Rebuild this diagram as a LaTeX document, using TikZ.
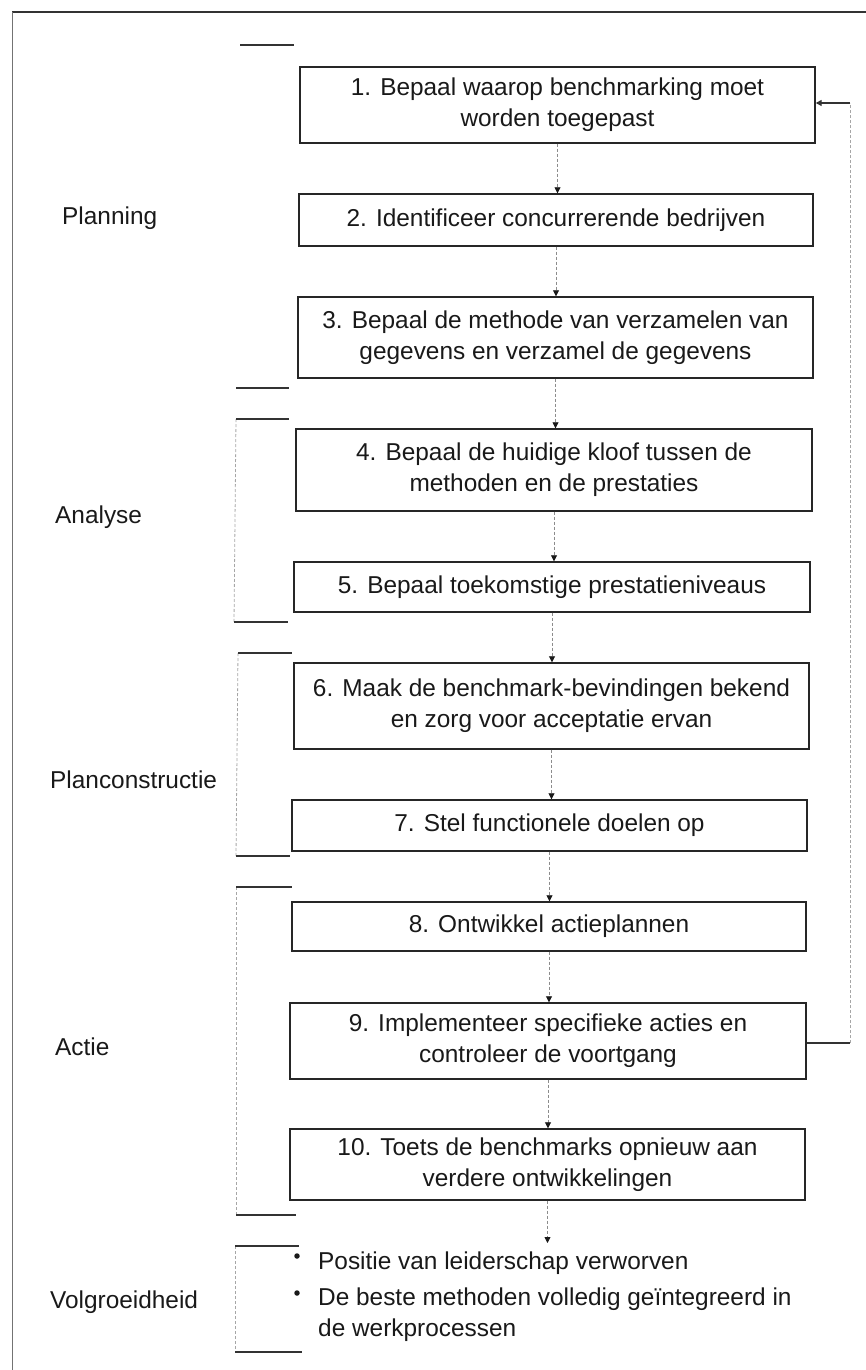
\documentclass[tikz,border=0pt]{standalone}
\usepackage{fontspec}
\setmainfont{Liberation Sans}
\usetikzlibrary{arrows.meta}
\begin{document}
\begin{tikzpicture}[x=1pt,y=-1pt,
  every node/.style={font=\fontsize{24.4}{31}\selectfont, text=black!90, inner sep=0pt},
  stepbox/.style={draw=black!85, line width=1.4pt, align=center},
  phase/.style={anchor=west},
  tick/.style={draw=black!80, line width=1.3pt},
  spine/.style={draw=black!35, line width=0.8pt, densely dashed},
  flow/.style={draw=black!45, line width=0.8pt, densely dashed,
    -{Triangle[length=6pt,width=6pt,color=black!90]}},
  loopline/.style={draw=black!80, line width=1.3pt},
  bulletdot/.style={circle, fill=black!90, minimum size=5.5pt, inner sep=0pt}]
\useasboundingbox (0,0) rectangle (866,1370);

% page frame (top and left rules)
\draw[black!80, line width=1.5pt] (12,12) -- (866,12);
\draw[black!55, line width=1pt] (12,12) -- (12,1370);

% the ten steps
\node[stepbox, minimum width=515pt, minimum height=76pt] (b1) at (557.5,105)
  {1. Bepaal waarop benchmarking moet\\worden toegepast};
\node[stepbox, minimum width=514pt, minimum height=52pt] (b2) at (556,220)
  {2. Identificeer concurrerende bedrijven};
\node[stepbox, minimum width=515pt, minimum height=81pt] (b3) at (555.5,337.5)
  {3. Bepaal de methode van verzamelen van\\gegevens en verzamel de gegevens};
\node[stepbox, minimum width=516pt, minimum height=82pt] (b4) at (554,470)
  {4. Bepaal de huidige kloof tussen de\\methoden en de prestaties};
\node[stepbox, minimum width=516pt, minimum height=50pt] (b5) at (552,587)
  {5. Bepaal toekomstige prestatieniveaus};
\node[stepbox, minimum width=515pt, minimum height=86pt] (b6) at (551.5,706)
  {6. Maak de benchmark-bevindingen bekend\\en zorg voor acceptatie ervan};
\node[stepbox, minimum width=515pt, minimum height=51pt] (b7) at (549.5,825.5)
  {7. Stel functionele doelen op};
\node[stepbox, minimum width=514pt, minimum height=49pt] (b8) at (549,926.5)
  {8. Ontwikkel actieplannen};
\node[stepbox, minimum width=516pt, minimum height=76pt] (b9) at (548,1041)
  {9. Implementeer specifieke acties en\\controleer de voortgang};
\node[stepbox, minimum width=515pt, minimum height=71pt] (b10) at (547.5,1164.5)
  {10. Toets de benchmarks opnieuw aan\\verdere ontwikkelingen};

% outcome bullets
\node[anchor=west] (v1) at (318,1263) {Positie van leiderschap verworven};
\node[anchor=west, align=left] (v2) at (318,1315)
  {De beste methoden volledig geïntegreerd in\\de werkprocessen};
\node[bulletdot] (d1) at (297,1256) {};
\node[bulletdot] (d2) at (297,1293) {};
\coordinate (vin) at (547.5,1243);

% flow between steps
\foreach \a/\b in {b1/b2,b2/b3,b3/b4,b4/b5,b5/b6,b6/b7,b7/b8,b8/b9,b9/b10}
  \draw[flow] (\a.south) -- (\a.south |- \b.north);
\draw[flow] (b10.south) -- (vin);

% feedback from step 9 back to step 1
\coordinate (fb1) at (850,1043);
\coordinate (fb2) at (850,103);
\draw[loopline] (b9.east |- fb1) -- (fb1);
\draw[spine] (fb1) -- (fb2);
\draw[loopline, -{Triangle[length=6pt,width=6pt]}] (fb2) -- (fb2 -| b1.east);

% phase labels
\node[phase] (pPlan) at (62,218) {Planning};
\node[phase] (pAna) at (55,517) {Analyse};
\node[phase] (pCon) at (50,780) {Planconstructie};
\node[phase] (pAct) at (55,1047) {Actie};
\node[phase] (pVol) at (50,1302) {Volgroeidheid};

% phase brackets
\draw[tick] (240,45) -- (294,45);
\draw[tick] (236,388) -- (289,388);

\draw[spine] (236,419) -- (234,622);
\draw[tick] (236,419) -- (289,419);
\draw[tick] (234,622) -- (288,622);

\draw[spine] (238,653) -- (236,856);
\draw[tick] (238,653) -- (292,653);
\draw[tick] (236,856) -- (290,856);

\draw[spine] (236,887) -- (236,1215);
\draw[tick] (236,887) -- (292,887);
\draw[tick] (236,1215) -- (296,1215);

\draw[spine] (235,1246) -- (235,1352);
\draw[tick] (235,1246) -- (299,1246);
\draw[tick] (235,1352) -- (302,1352);
\end{tikzpicture}
\end{document}
